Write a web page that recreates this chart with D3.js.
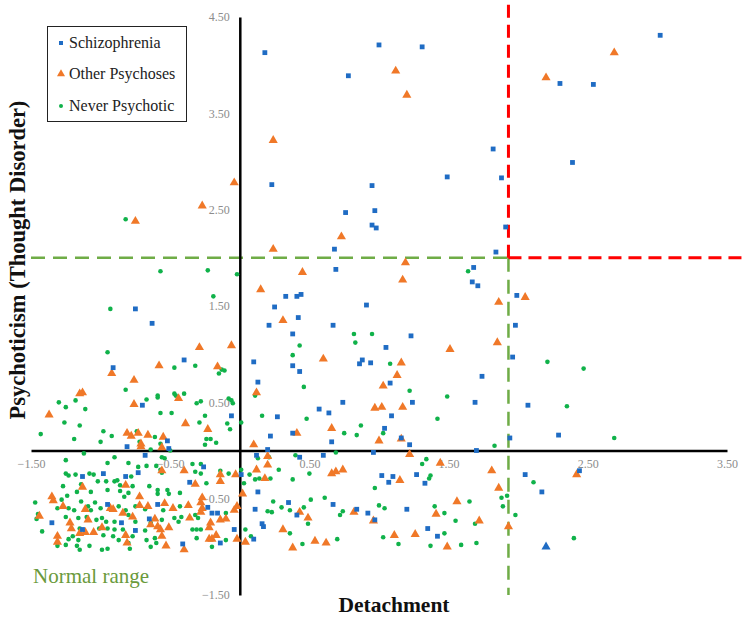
<!DOCTYPE html>
<html><head><meta charset="utf-8">
<script src="https://cdn.jsdelivr.net/npm/d3@7"></script>
<style>html,body{margin:0;padding:0;background:#fff}svg{display:block}</style>
</head><body>
<svg id="chart" width="744" height="618"></svg>
<script>
// ---------- data ----------
const xTicks = [-1.5, -0.5, 0.5, 1.5, 2.5, 3.5];
const yTicks = [4.5, 3.5, 2.5, 1.5, 0.5, -0.5, -1.5];
const seriesNames = ["Schizophrenia", "Other Psychoses", "Never Psychotic"];
const normalX = 1.93;   // detachment cut-off
const normalY = 2.0;    // psychoticism cut-off

const schizophrenia = [
[0.18,4.13],[1.00,4.21],[1.31,4.19],[0.78,3.89],[0.23,2.76],[0.95,2.75],[1.49,2.84],[1.82,3.13],[0.76,2.47],[0.97,2.49],[0.95,2.34],[0.98,2.31],[0.68,2.09],[1.84,2.06],
[3.02,4.31],[2.30,3.81],[2.54,3.80],[2.39,2.99],[1.88,2.83],[1.91,2.32],
[-0.75,1.47],[-0.63,1.32],[-0.40,0.94],[-0.91,0.86],[-0.70,0.47],[-0.06,0.36],[-0.52,0.10],[-0.81,0.04],[-0.51,0.02],
[0.69,1.88],[1.68,1.90],[1.67,1.75],[1.71,1.71],[0.33,1.60],[0.41,1.60],[0.44,1.62],[0.25,1.49],[0.91,1.51],[0.42,1.38],[0.21,1.30],[0.67,1.30],[0.38,1.21],[1.23,1.19],[1.05,1.07],[0.10,0.92],[0.38,0.88],[0.86,0.90],[0.88,0.94],[0.94,0.91],[0.43,0.82],[1.74,0.77],[0.13,0.71],[1.08,0.70],[0.74,0.50],[1.24,0.50],[1.69,0.50],[0.57,0.43],[0.64,0.39],[0.27,0.35],[1.09,0.36],[1.04,0.23],[0.38,0.18],[0.22,0.15],[1.16,0.13],[0.66,0.09],[1.22,0.06],[0.20,0.01],[1.70,0.00],
[1.99,1.61],[1.98,1.30],[1.96,0.97],[2.07,0.47],[2.29,0.16],[1.94,0.13],
[0.12,-0.05],[0.43,-0.07],[0.60,-0.05],[0.96,-0.02],[0.01,-0.25],[1.02,-0.26],[1.10,-0.27],[1.07,-0.33],[1.27,-0.25],[1.33,-0.34],[0.13,-0.43],[0.35,-0.54],[0.67,-0.56],[0.11,-0.61],[0.41,-0.67],[0.84,-0.61],[0.92,-0.65],[1.20,-0.61],[0.97,-0.72],[0.16,-0.76],[0.17,-0.79],[1.35,-0.81],[1.42,-0.89],[0.10,-0.92],
[2.05,-0.25],[2.44,-0.21],[2.17,-0.43],
[-1.13,-0.27],[-0.98,-0.24],[-0.82,-0.27],[-0.95,-0.56],[-0.85,-0.75],[-1.35,-0.75],[-1.13,-0.82],
[-0.68,-0.05],[-0.73,-0.23],[-0.26,-0.17],[-0.36,-0.33],[-0.59,-0.56],[-0.23,-0.59],[-0.20,-0.65],[-0.16,-0.65],[-0.65,-0.71],[-0.75,-0.83],[-0.41,-0.97],[-0.14,-0.96],[-0.04,-0.82]
];
const schizophreniaTriangle = [[2.20,-1.00]];

const otherPsychoses = [
[-0.75,2.38],[-0.27,2.54],[-0.04,2.78],
[1.12,3.94],[1.20,3.69],[0.24,3.22],[0.73,2.22],[0.24,2.09],
[2.69,4.13],[2.20,3.87],
[-0.29,1.07],[-0.06,1.09],[-0.58,0.88],[-0.16,0.87],[-0.92,0.80],[-0.76,0.73],[-1.15,0.59],[-1.13,0.60],[-0.44,0.54],[-0.76,0.48],[-1.37,0.37],[-0.39,0.28],[-0.23,0.22],[-0.81,0.18],[-0.78,0.15],[-0.73,0.18],[-0.66,0.16],[-0.55,0.14],[-0.71,0.07],[-0.71,0.04],[-0.56,0.03],
[1.19,1.95],[0.45,1.85],[1.17,1.77],[0.15,1.67],[1.86,1.54],[0.31,1.35],[1.85,1.12],[1.51,1.05],[0.60,0.95],[1.16,0.91],[1.13,0.78],[1.03,0.67],[0.12,0.60],[0.97,0.44],[1.02,0.45],[1.17,0.45],[0.66,0.23],[0.41,0.18],[1.00,0.10],[1.16,0.12],[0.10,0.06],
[2.05,1.59],
[0.20,-0.06],[1.22,-0.04],[1.44,-0.13],[0.20,-0.15],[0.12,-0.20],[0.18,-0.29],[0.66,-0.24],[0.69,-0.22],[0.74,-0.20],[1.15,-0.31],[0.02,-0.45],[0.43,-0.64],[0.49,-0.70],[0.82,-0.64],[0.96,-0.73],[1.56,-0.53],[1.41,-0.66],[1.72,-0.73],[0.31,-0.82],[1.26,-0.87],[1.11,-0.88],[0.04,-0.95],[0.54,-0.94],[0.62,-0.96],[0.38,-1.01],[1.49,-1.00],[1.81,-0.21],[1.86,-0.39],
[2.42,-0.25],[1.93,-0.79],
[-1.13,-0.38],[-0.82,-0.36],[-1.35,-0.48],[-1.34,-0.52],[-1.27,-0.58],[-1.11,-0.61],[-0.93,-0.60],[-0.91,-0.61],[-0.84,-0.65],[-1.44,-0.68],[-1.22,-0.75],[-1.21,-0.81],[-1.09,-0.72],[-1.15,-0.86],[-1.11,-0.85],[-1.05,-0.85],[-0.99,-0.80],[-0.82,-0.88],[-1.31,-0.89],[-1.31,-0.95],[-0.81,-0.96],
[-0.56,-0.21],[-0.40,-0.21],[-0.14,-0.25],[-0.03,-0.25],[-0.32,-0.35],[-0.14,-0.32],[-0.72,-0.48],[-0.72,-0.57],[-0.66,-0.58],[-0.54,-0.55],[-0.48,-0.60],[-0.37,-0.57],[-0.27,-0.49],[-0.28,-0.54],[-0.27,-0.60],[-0.28,-0.64],[-0.36,-0.70],[-0.14,-0.72],[-0.10,-0.71],[-0.04,-0.62],[-0.02,-0.58],[-0.77,-0.69],[-0.61,-0.71],[-0.64,-0.77],[-0.59,-0.79],[-0.57,-0.82],[-0.51,-0.80],[-0.56,-0.89],[-0.53,-0.99],[-0.22,-0.80],[-0.21,-0.75],[-0.17,-0.88],[-0.22,-0.92],[-0.20,-0.92],[-0.40,-1.03],[-0.02,-0.92]
];

const neverPsychotic = [
[-0.82,2.40],
[-0.57,1.86],[-0.23,1.87],[-0.02,1.83],[-0.19,1.60],[-0.93,1.47],[-0.95,1.02],[-0.47,0.86],[-0.32,0.88],[-0.13,0.84],[-0.11,0.83],[-0.15,0.80],[-0.82,0.63],[-1.30,0.50],[-1.25,0.45],[-1.18,0.52],[-1.11,0.43],[-0.67,0.53],[-0.59,0.55],[-0.59,0.57],[-0.47,0.59],[-0.46,0.57],[-0.40,0.59],[-0.31,0.49],[-0.28,0.51],[-0.08,0.54],[-0.06,0.52],[-0.05,0.49],[-0.57,0.39],[-0.49,0.39],[-0.25,0.36],[-1.26,0.29],[-1.15,0.26],[-0.29,0.29],[-0.09,0.28],[-0.07,0.22],[0.01,0.29],[-1.43,0.17],[-1.19,0.12],[-0.98,0.20],[-0.92,0.15],[-1.00,0.09],[-0.74,0.20],[-0.61,0.14],[-0.72,0.09],[-0.57,0.07],[-0.24,0.12],[-0.21,0.12],[-0.17,0.08],[-0.25,0.06],[-0.64,0.01],
[1.64,1.86],[0.82,1.21],[0.95,1.21],[0.83,1.12],[0.43,1.09],[0.38,0.99],[1.08,0.90],[0.11,0.57],[0.46,0.66],[1.22,0.62],[1.49,0.56],[0.16,0.36],[0.48,0.33],[1.42,0.33],[0.87,0.26],[0.75,0.18],[0.84,0.16],[1.03,0.18],[1.83,0.05],
[2.21,0.92],[2.47,0.85],[2.35,0.46],[2.69,0.13],
[0.21,-0.07],[0.13,-0.08],[0.40,-0.05],[0.69,-0.02],[1.31,-0.14],[1.34,-0.09],[0.01,-0.20],[0.07,-0.25],[0.11,-0.30],[0.14,-0.29],[0.22,-0.29],[0.28,-0.20],[0.50,-0.24],[0.38,-0.30],[1.36,-0.29],[1.37,-0.26],[0.03,-0.34],[0.97,-0.39],[0.24,-0.53],[0.51,-0.51],[0.61,-0.49],[0.30,-0.59],[0.36,-0.62],[0.46,-0.59],[0.20,-0.63],[0.23,-0.64],[0.49,-0.76],[1.00,-0.57],[1.04,-0.60],[0.74,-0.63],[0.72,-0.67],[1.65,-0.53],[1.40,-0.58],[1.47,-0.65],[1.55,-0.73],[1.69,-0.76],[0.04,-0.82],[0.36,-0.86],[1.47,-0.86],[1.03,-0.90],[0.08,-0.89],[0.70,-0.92],[0.45,-0.97],[1.14,-0.97],[1.37,-0.99],[1.59,-0.98],[1.70,-0.96],
[2.11,-0.33],[1.88,-0.49],[1.92,-0.47],[1.89,-0.58],[1.98,-0.67],[2.40,-0.91],
[-1.12,-0.03],[-0.90,-0.07],[-1.25,-0.10],[-0.95,-0.13],[-1.25,-0.24],[-1.23,-0.26],[-1.18,-0.25],[-1.08,-0.24],[-1.05,-0.25],[-1.14,-0.35],[-1.02,-0.32],[-0.96,-0.32],[-0.90,-0.32],[-0.88,-0.31],[-0.86,-0.36],[-1.27,-0.37],[-1.17,-0.43],[-1.07,-0.43],[-0.95,-0.41],[-0.86,-0.42],[-1.24,-0.47],[-1.28,-0.51],[-1.31,-0.60],[-1.23,-0.60],[-1.14,-0.53],[-1.04,-0.54],[-1.47,-0.54],[-1.09,-0.58],[-1.19,-0.62],[-1.07,-0.62],[-1.00,-0.60],[-0.87,-0.58],[-0.82,-0.62],[-1.45,-0.66],[-1.46,-0.71],[-1.25,-0.69],[-1.16,-0.70],[-1.10,-0.69],[-1.03,-0.72],[-0.99,-0.70],[-0.96,-0.74],[-0.90,-0.74],[-1.42,-0.84],[-1.15,-0.81],[-1.01,-0.81],[-0.95,-0.81],[-0.90,-0.82],[-0.84,-0.82],[-1.20,-0.89],[-1.23,-0.92],[-1.31,-0.99],[-1.25,-0.98],[-1.16,-0.93],[-1.17,-0.99],[-1.15,-1.03],[-1.08,-0.99],[-0.99,-1.03],[-0.95,-1.02],[-0.87,-0.93],[-0.91,-0.89],[-0.98,-0.88],
[-0.56,-0.07],[-0.54,-0.08],[-0.50,0.00],[-0.80,-0.13],[-0.73,-0.17],[-0.67,-0.16],[-0.60,-0.16],[-0.57,-0.20],[-0.56,-0.23],[-0.78,-0.27],[-0.34,-0.14],[-0.28,-0.14],[-0.32,-0.22],[-0.28,-0.24],[-0.14,-0.21],[-0.08,-0.24],[-0.24,-0.34],[-0.77,-0.37],[-0.65,-0.37],[-0.59,-0.41],[-0.52,-0.41],[-0.59,-0.45],[-0.51,-0.45],[-0.43,-0.44],[-0.80,-0.44],[-0.83,-0.48],[-0.68,-0.61],[-0.75,-0.58],[-0.55,-0.62],[-0.43,-0.58],[-0.32,-0.67],[-0.30,-0.70],[-0.10,-0.65],[-0.80,-0.67],[-0.64,-0.75],[-0.56,-0.72],[-0.47,-0.70],[-0.44,-0.74],[-0.42,-0.69],[-0.75,-0.74],[-0.68,-0.83],[-0.77,-0.89],[-0.61,-0.91],[-0.67,-0.93],[-0.80,-0.96],[-0.60,-0.96],[-0.64,-1.00],[-0.79,-1.02],[-0.34,-0.82],[-0.31,-0.82],[-0.28,-0.82],[-0.31,-0.91],[-0.20,-1.00],[-0.10,-0.93]
];

// ---------- drawing ----------
const blue = "#1f6cc4", orange = "#f07828", green = "#10b24a";
const serif = "'Liberation Serif', 'DejaVu Serif', serif";
const svg = d3.select("#chart");
const x = d3.scaleLinear().domain([-1.5, 3.5]).range([31, 727]);
const y = d3.scaleLinear().domain([-1.5, 4.5]).range([595, 17]);

// threshold dashed lines
const lines = svg.append("g");
const greenDash = "#6fac46";
lines.append("line").attr("x1", x(-1.5)).attr("x2", x(normalX)).attr("y1", y(normalY)).attr("y2", y(normalY))
  .attr("stroke", greenDash).attr("stroke-width", 2.5).attr("stroke-dasharray", "14,8");
lines.append("line").attr("x1", x(normalX)).attr("x2", x(normalX)).attr("y1", y(normalY)).attr("y2", y(-1.5))
  .attr("stroke", greenDash).attr("stroke-width", 2.5).attr("stroke-dasharray", "14,8");
lines.append("line").attr("x1", x(normalX)).attr("x2", x(normalX)).attr("y1", y(normalY)).attr("y2", y(4.68))
  .attr("stroke", "#ff0000").attr("stroke-width", 3).attr("stroke-dasharray", "13,7");
lines.append("line").attr("x1", x(normalX)).attr("x2", x(3.62)).attr("y1", y(normalY)).attr("y2", y(normalY))
  .attr("stroke", "#ff0000").attr("stroke-width", 3).attr("stroke-dasharray", "13,7");

// axes crossing at zero
const fmt = d3.format(".2f");
const xAxis = svg.append("g").attr("transform", `translate(0,${y(0)})`)
  .call(d3.axisBottom(x).tickValues(xTicks).tickFormat(fmt).tickSize(0).tickPadding(9));
const yAxis = svg.append("g").attr("transform", `translate(${x(0)},0)`)
  .call(d3.axisLeft(y).tickValues(yTicks).tickFormat(fmt).tickSize(0).tickPadding(10));
[xAxis, yAxis].forEach(a => {
  a.select(".domain").attr("stroke", "#000").attr("stroke-width", 2.5);
  a.selectAll("text").attr("font-family", serif).attr("font-size", 12).attr("fill", "#8c8c8c");
});

// points
const tri = d3.symbol().type(d3.symbolTriangle).size(36);
svg.append("g").selectAll("circle").data(neverPsychotic).join("circle")
  .attr("cx", d => x(d[0])).attr("cy", d => y(d[1])).attr("r", 2.3).attr("fill", green);
svg.append("g").selectAll("path").data(otherPsychoses).join("path")
  .attr("d", tri).attr("transform", d => `translate(${x(d[0])},${y(d[1])})`).attr("fill", orange);
svg.append("g").selectAll("rect").data(schizophrenia).join("rect")
  .attr("x", d => x(d[0]) - 2.4).attr("y", d => y(d[1]) - 2.4).attr("width", 4.8).attr("height", 4.8).attr("fill", blue);
svg.append("g").selectAll("path").data(schizophreniaTriangle).join("path")
  .attr("d", tri).attr("transform", d => `translate(${x(d[0])},${y(d[1])})`).attr("fill", blue);

// legend
const lg = svg.append("g");
lg.append("rect").attr("x", 47.5).attr("y", 26.5).attr("width", 139).attr("height", 95)
  .attr("fill", "#fff").attr("stroke", "#222").attr("stroke-width", 1);
const legendY = [43, 74, 106];
seriesNames.forEach((name, i) => {
  const cy = legendY[i];
  if (i === 0) lg.append("rect").attr("x", 59).attr("y", cy - 2).attr("width", 4).attr("height", 4).attr("fill", blue);
  if (i === 1) lg.append("path").attr("d", d3.symbol().type(d3.symbolTriangle).size(28)).attr("transform", `translate(61,${cy})`).attr("fill", orange);
  if (i === 2) lg.append("circle").attr("cx", 61).attr("cy", cy).attr("r", 2).attr("fill", green);
  lg.append("text").attr("x", 69).attr("y", cy + 5).text(name)
    .attr("font-family", serif).attr("font-size", 16).attr("fill", "#222");
});

// titles
svg.append("text").attr("x", 394).attr("y", 612).attr("text-anchor", "middle")
  .attr("font-family", serif).attr("font-weight", "bold").attr("font-size", 21.5).attr("fill", "#111").text("Detachment");
svg.append("text").attr("transform", "translate(25,260) rotate(-90)").attr("text-anchor", "middle")
  .attr("font-family", serif).attr("font-weight", "bold").attr("font-size", 22.5).attr("fill", "#111").text("Psychoticism (Thought Disorder)");
svg.append("text").attr("x", 33).attr("y", 583)
  .attr("font-family", serif).attr("font-size", 21).attr("fill", "#6a9a3c").text("Normal range");
</script>
</body></html>
